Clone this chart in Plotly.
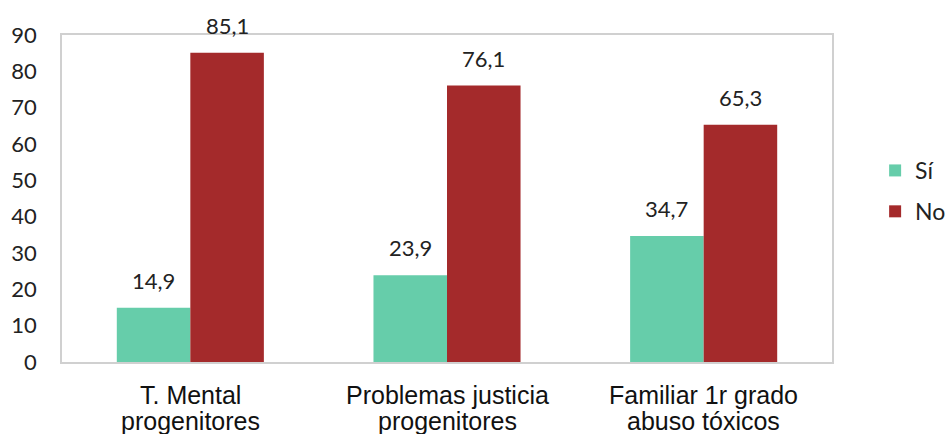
import plotly.graph_objects as go

categories = ["T. Mental progenitores", "Problemas justicia progenitores", "Familiar 1r grado abuso tóxicos"]
category_lines = [("T. Mental", "progenitores"),
                  ("Problemas justicia", "progenitores"),
                  ("Familiar 1r grado", "abuso tóxicos")]
si_values = [14.9, 23.9, 34.7]
no_values = [85.1, 76.1, 65.3]
y_ticks = [0, 10, 20, 30, 40, 50, 60, 70, 80, 90]

SI_COLOR = "#66CDAA"
NO_COLOR = "#A42A2B"
LABEL_FONT = "Lato, Liberation Sans, sans-serif"
CAT_FONT = "Liberation Sans, Arial, sans-serif"

fig = go.Figure()
fig.add_trace(go.Bar(name="Sí", x=categories, y=si_values, legendgroup="si",
                     marker=dict(color=SI_COLOR, line=dict(width=0))))
fig.add_trace(go.Bar(name="No", x=categories, y=no_values, legendgroup="no",
                     marker=dict(color=NO_COLOR, line=dict(width=0))))

# value labels above each bar, offset to the bar's half of the group
half_bar_px = 36.7
for vals, shift in ((si_values, -half_bar_px), (no_values, half_bar_px)):
    for cat, v in zip(categories, vals):
        fig.add_annotation(
            x=cat, y=v, text=f"{v:.1f}".replace(".", ","), showarrow=False,
            xshift=shift, yshift=12, yanchor="bottom",
            font=dict(family=LABEL_FONT, size=22, color="#222222"),
        )

# two-line category labels under the axis, with tight line spacing
for cat, lines in zip(categories, category_lines):
    for line, shift in zip(lines, (-33, -59)):
        fig.add_annotation(
            x=cat, xref="x", y=0, yref="paper", text=line, showarrow=False,
            yanchor="middle", yshift=shift,
            font=dict(family=CAT_FONT, size=25, color="#111111"),
        )

fig.update_layout(
    width=947, height=434,
    margin=dict(l=62, r=115, t=35, b=72, autoexpand=False),
    paper_bgcolor="white", plot_bgcolor="white",
    barmode="group", bargap=0.427, bargroupgap=0,
    showlegend=True,
    legend=dict(
        x=1.056, y=0.523, xanchor="left", yanchor="middle",
        font=dict(family=LABEL_FONT, size=23, color="#222222"),
        itemwidth=30, tracegroupgap=8,
    ),
    xaxis=dict(
        automargin=False,
        showline=True, mirror=True, linecolor="#D0D0D0", linewidth=1.5,
        showgrid=False, ticks="", showticklabels=False,
    ),
    yaxis=dict(
        automargin=False,
        range=[0, 90], tickvals=y_ticks,
        showline=True, mirror=True, linecolor="#D0D0D0", linewidth=1.5,
        showgrid=False, zeroline=False, ticks="", ticklabelstandoff=19,
        tickfont=dict(family=LABEL_FONT, size=22, color="#222222"),
    ),
)

fig.write_html("out.html")
